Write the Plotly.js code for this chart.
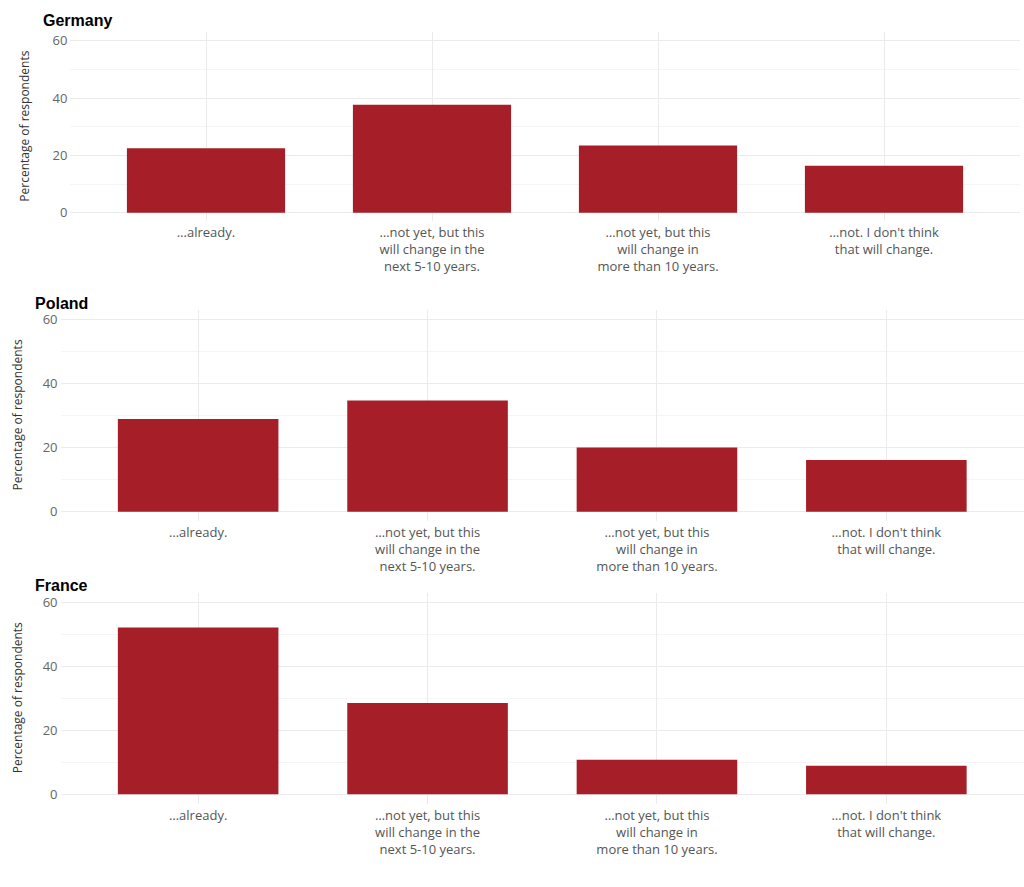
<!DOCTYPE html>
<html>
<head>
<meta charset="utf-8">
<script src="https://cdn.plot.ly/plotly-3.0.1.min.js"></script>
<style>html,body{margin:0;padding:0;background:#fff;}#chart{width:1024px;height:887px;}</style>
</head>
<body>
<div id="chart"></div>
<script>
const categories = [
  "…already.",
  "…not yet, but this<br>will change in the<br>next 5-10 years.",
  "…not yet, but this<br>will change in<br>more than 10 years.",
  "…not. I don't think<br>that will change."
];
const countries = ["Germany", "Poland", "France"];
const germany = [22.5, 37.7, 23.4, 16.4];
const poland = [28.9, 34.7, 20.0, 16.1];
const france = [52.1, 28.5, 10.8, 8.9];
const yTickVals = [0, 20, 40, 60];
const yTitle = "Percentage of respondents";

const W = 1024, H = 887;
const barColor = "#A61F28";
const xTickFont = {family: "'Open Sans', sans-serif", size: 13, color: "#555"};
const yTickFont = {family: "'Open Sans', sans-serif", size: 13, color: "#666"};

// panel geometry in pixels
const panels = [
  {name: countries[0], vals: germany, x0: 70.4, x1: 1019.6, top: 32.1, bottom: 221.3, titleX: 42, titleY: 21, yTitleX: 25, titleH: null},
  {name: countries[1], vals: poland, x0: 60.5, x1: 1024, top: 309.7, bottom: 521.3, titleX: 34, titleY: 303, yTitleX: 17, titleH: 14},
  {name: countries[2], vals: france, x0: 60.5, x1: 1024, top: 592.7, bottom: 803.9, titleX: 34, titleY: 585, yTitleX: 17, titleH: 14}
];

const data = [];
const layout = {
  width: W, height: H,
  margin: {l: 0, r: 0, t: 0, b: 0},
  paper_bgcolor: "#fff", plot_bgcolor: "#fff",
  showlegend: false,
  annotations: []
};

panels.forEach((p, i) => {
  const n = i === 0 ? "" : String(i + 1);
  data.push({
    type: "bar",
    x: categories,
    y: p.vals,
    xaxis: "x" + n,
    yaxis: "y" + n,
    width: 0.7,
    marker: {color: barColor, line: {width: 0}},
    hoverinfo: "skip"
  });
  layout["xaxis" + n] = {
    domain: [p.x0 / W, p.x1 / W],
    anchor: "y" + n,
    type: "category",
    range: [-0.6, 3.6],
    showgrid: true,
    gridcolor: "#ebebeb",
    gridwidth: 1,
    zeroline: false,
    showline: false,
    ticks: "",
    ticklabelstandoff: 2,
    tickfont: xTickFont,
    automargin: false,
    fixedrange: true
  };
  layout["yaxis" + n] = {
    domain: [1 - p.bottom / H, 1 - p.top / H],
    anchor: "x" + n,
    range: [-3, 63],
    tickvals: yTickVals,
    ticktext: yTickVals.map(String),
    showgrid: true,
    gridcolor: "#ebebeb",
    gridwidth: 1,
    minor: {dtick: 10, tick0: 0, showgrid: true, gridcolor: "#f3f3f3", gridwidth: 0.8},
    zeroline: false,
    showline: false,
    ticks: "",
    ticklabelstandoff: 2,
    tickfont: yTickFont,
    automargin: false,
    fixedrange: true
  };
  const titleAnn = {
    text: "<b>" + p.name + "</b>",
    xref: "paper", yref: "paper",
    x: p.titleX / W, y: 1 - p.titleY / H,
    xanchor: "left", yanchor: "middle",
    valign: "middle", borderpad: 0,
    showarrow: false,
    font: {family: "'Liberation Sans', Arial, sans-serif", size: 16, color: "#000"}
  };
  if (p.titleH) titleAnn.height = p.titleH;
  layout.annotations.push(titleAnn);
  layout.annotations.push({
    text: yTitle,
    xref: "paper", yref: "paper",
    x: p.yTitleX / W, y: 1 - (p.top + p.bottom) / 2 / H,
    xanchor: "center", yanchor: "middle",
    textangle: -90,
    showarrow: false,
    font: {family: "'Open Sans', sans-serif", size: 12, color: "#333"}
  });
});

Plotly.newPlot("chart", data, layout, {displayModeBar: false, staticPlot: true});
</script>
</body>
</html>
